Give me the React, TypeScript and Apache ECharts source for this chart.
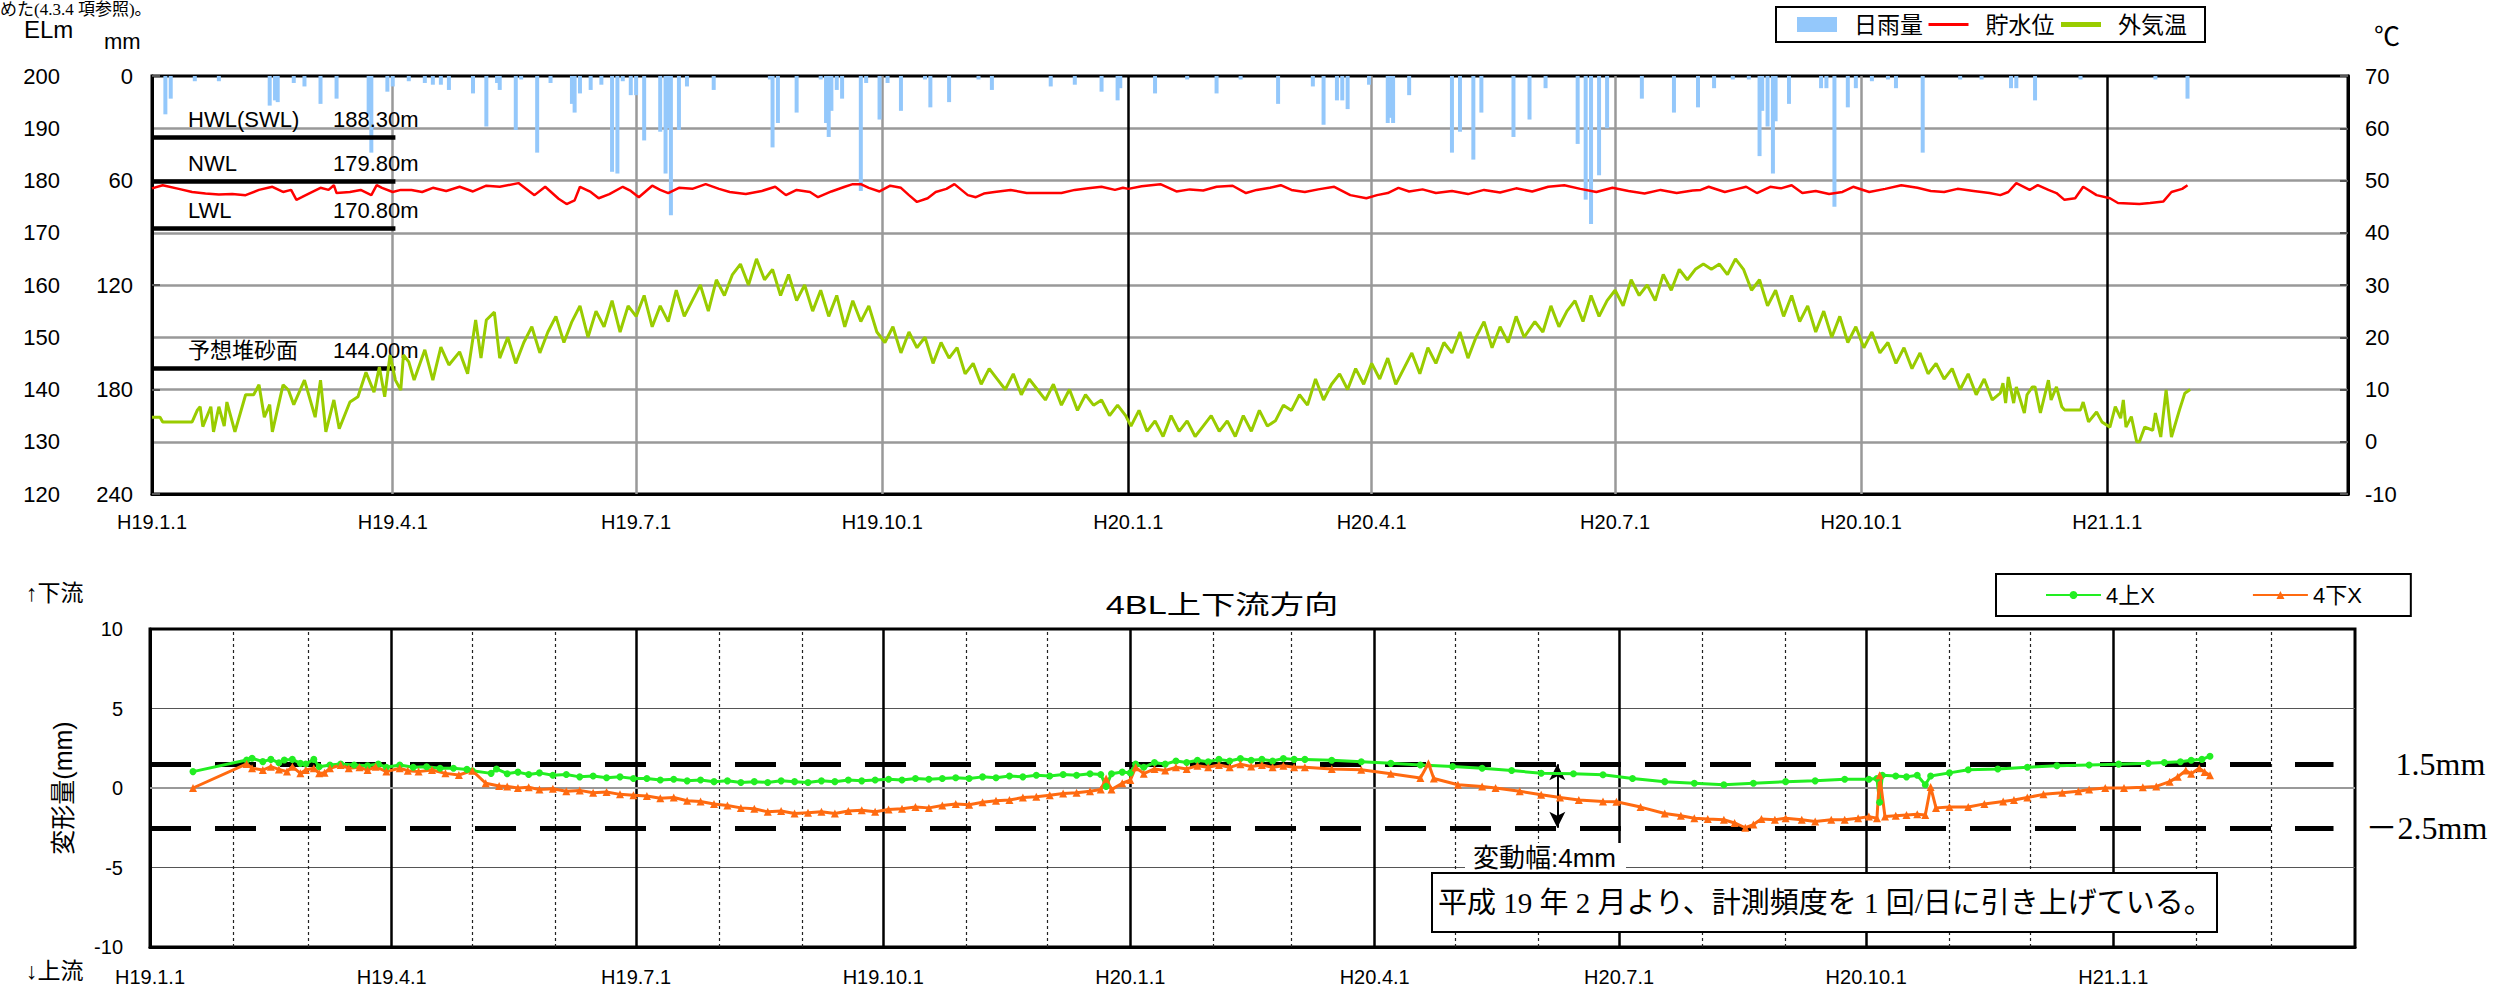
import { useEffect, useRef } from 'react';
import * as echarts from 'echarts';

const SANS = "'Liberation Sans', 'Noto Sans CJK JP', sans-serif";
const SERIF = "'Liberation Serif', 'Noto Sans CJK JP', serif";

// x positions are days counted from H19.1.1 (2007-01-01)
const END_DAY = 821;
const quarterDays = [0, 90, 181, 273, 365, 456, 547, 639, 731];
const quarterLabels = ['H19.1.1', 'H19.4.1', 'H19.7.1', 'H19.10.1', 'H20.1.1', 'H20.4.1', 'H20.7.1', 'H20.10.1', 'H21.1.1'];
const yearDays = [365, 731];
const monthDays = [31, 59, 120, 151, 212, 243, 304, 334, 396, 425, 486, 517, 578, 609, 670, 700, 762, 790];

// 日雨量 (mm)
const rainfall: [number, number][] = [
  [5, 22], [7, 13], [16, 3], [25, 3], [44, 17], [46, 14], [47, 15], [53, 4], [57, 6], [63, 16], [69, 13],
  [81, 22], [82, 44], [88, 9], [90, 6], [96, 3], [102, 4], [105, 5], [108, 5], [111, 8], [120, 10], [125, 29],
  [129, 4], [130, 8], [136, 31], [138, 2], [144, 44], [149, 4], [157, 16], [158, 21], [160, 10], [164, 8],
  [168, 5], [172, 55], [174, 56], [176, 3], [179, 11], [181, 11], [184, 37], [190, 32], [192, 56], [193, 30],
  [194, 80], [197, 31], [200, 6], [210, 8], [231, 2], [232, 41], [234, 27], [241, 21], [250, 2], [252, 27],
  [253, 35], [254, 20], [256, 8], [258, 13], [265, 66], [267, 4], [272, 25], [275, 4], [280, 20], [289, 2],
  [291, 18], [298, 15], [309, 2], [314, 8], [336, 6], [345, 5], [355, 9], [361, 14], [362, 7], [375, 10],
  [387, 2], [398, 10], [407, 2], [421, 16], [434, 6], [438, 28], [443, 14], [445, 14], [447, 19], [455, 5],
  [462, 27], [463, 24], [464, 27], [470, 11], [486, 44], [489, 32], [494, 48], [497, 21], [509, 35], [515, 25],
  [521, 7], [533, 39], [536, 71], [538, 85], [541, 57], [544, 30], [557, 13], [569, 21], [578, 18], [584, 7],
  [591, 2], [597, 2], [601, 46], [602, 20], [604, 29], [606, 56], [607, 26], [612, 16], [624, 7], [626, 7],
  [629, 75], [634, 18], [637, 7], [643, 3], [649, 2], [652, 7], [662, 44], [676, 2], [684, 2], [695, 7],
  [697, 7], [704, 14], [721, 2], [749, 2], [761, 13],
];

// 貯水位 (EL m)
const waterLevel: [number, number][] = [
  [0, 178.5], [4, 179.1], [10, 178.4], [15, 177.8], [20, 177.5], [25, 177.3], [30, 177.4], [35, 177.2],
  [40, 178.2], [45, 178.8], [49, 177.8], [52, 178.2], [54, 176.3], [56, 176.8], [59, 177.6], [63, 178.6],
  [66, 178.2], [68, 179.1], [69, 177.6], [74, 177.8], [78, 178.2], [82, 177.2], [84, 179.1], [86, 178.6],
  [90, 177.8], [93, 178.2], [97, 178.2], [101, 177.8], [105, 178.6], [110, 178.0], [115, 178.8], [120, 177.9],
  [125, 179.0], [130, 178.8], [137, 179.5], [143, 177.2], [147, 178.8], [152, 176.5], [155, 175.5], [158, 176.2],
  [160, 178.8], [164, 177.8], [167, 176.6], [171, 177.4], [176, 178.8], [179, 178.0], [182, 176.8], [187, 179.0],
  [190, 178.2], [193, 177.6], [197, 178.6], [202, 178.4], [207, 179.3], [212, 178.4], [216, 177.8], [222, 177.4],
  [228, 178.0], [233, 178.8], [237, 177.2], [241, 178.2], [246, 177.8], [249, 176.8], [254, 177.9], [259, 178.8],
  [262, 179.3], [265, 179.3], [268, 178.6], [272, 177.9], [276, 179.0], [280, 178.6], [283, 177.2], [286, 175.9],
  [290, 176.6], [293, 177.8], [297, 178.4], [300, 179.3], [305, 177.2], [308, 176.8], [311, 177.5], [315, 177.8],
  [321, 178.2], [327, 177.6], [333, 177.6], [340, 177.6], [345, 178.2], [350, 178.5], [355, 178.8], [360, 178.2],
  [363, 178.6], [365, 178.4], [370, 178.9], [377, 179.3], [383, 177.9], [388, 178.3], [393, 178.1], [398, 178.8],
  [404, 179.0], [409, 177.6], [413, 178.2], [418, 178.6], [422, 179.1], [426, 178.2], [431, 177.8], [436, 178.3],
  [442, 178.8], [448, 177.2], [454, 176.6], [458, 177.2], [462, 177.6], [466, 178.6], [470, 177.9], [475, 178.3],
  [480, 177.6], [486, 178.0], [492, 177.4], [498, 178.2], [504, 177.7], [510, 178.5], [516, 177.9], [522, 178.8],
  [528, 179.1], [534, 178.4], [540, 177.8], [546, 178.6], [552, 178.0], [558, 177.5], [564, 178.2], [570, 177.6],
  [576, 178.1], [579, 178.2], [582, 178.8], [588, 177.8], [592, 178.3], [596, 178.8], [600, 177.6], [605, 178.8],
  [609, 178.5], [613, 179.1], [617, 177.6], [622, 178.0], [627, 177.4], [632, 177.8], [636, 178.8], [642, 177.8],
  [648, 178.4], [654, 179.1], [660, 178.6], [665, 178.0], [670, 177.8], [675, 178.4], [681, 178.0], [687, 177.6],
  [691, 177.2], [694, 177.8], [697, 179.5], [702, 178.2], [705, 179.1], [709, 178.2], [712, 177.6], [715, 176.3],
  [719, 176.6], [722, 178.8], [727, 177.2], [732, 176.6], [735, 175.7], [739, 175.6], [743, 175.5], [747, 175.7],
  [752, 176.0], [755, 177.8], [759, 178.4], [761, 179.1],
];

// 外気温 (℃)
const airTemp: [number, number][] = [
  [0, 4.7], [3, 4.7], [4, 3.8], [15, 3.8], [17, 6.1], [18, 6.7], [19, 2.9], [22, 6.7], [23, 1.9], [25, 6.7],
  [27, 3.0], [28, 7.6], [30, 3.8], [31, 1.9], [35, 9.0], [38, 9.0], [40, 10.9], [42, 4.7], [44, 7.1], [45, 1.9],
  [49, 10.9], [51, 9.9], [53, 7.1], [57, 11.8], [61, 4.7], [63, 11.8], [65, 1.9], [68, 8.0], [70, 2.5], [74, 7.6],
  [77, 8.6], [80, 13.3], [83, 9.5], [85, 14.3], [87, 8.6], [89, 16.6], [91, 11.8], [93, 9.9], [94, 16.6], [96, 15.3],
  [98, 11.8], [102, 17.6], [105, 11.8], [108, 18.1], [111, 14.7], [115, 17.2], [118, 13.0], [121, 23.3], [123, 16.0],
  [125, 23.3], [128, 24.8], [130, 16.0], [133, 20], [136, 15], [139, 19], [142, 22], [145, 17], [148, 21], [151, 24],
  [154, 19], [157, 23], [160, 26], [163, 20], [166, 25], [169, 22], [172, 27], [175, 21], [178, 26], [181, 24],
  [184, 28], [187, 22], [190, 26], [193, 23], [196, 29], [199, 24], [202, 27], [205, 30], [208, 25], [211, 31],
  [214, 28], [217, 32], [220, 34], [223, 30], [226, 35], [229, 31], [232, 33], [235, 28], [238, 32], [241, 27],
  [244, 30], [247, 25], [250, 29], [253, 24], [256, 28], [259, 22], [262, 27], [265, 23], [268, 26], [271, 21],
  [274, 19], [277, 22], [280, 17], [283, 21], [286, 18], [289, 20], [292, 15], [295, 19], [298, 16], [301, 18],
  [304, 13], [307, 15], [310, 11], [313, 14], [316, 12], [319, 10], [322, 13], [325, 9], [328, 12], [331, 10],
  [334, 8], [337, 11], [340, 7], [343, 10], [346, 6], [349, 9], [352, 7], [355, 8], [358, 5], [361, 7], [364, 5],
  [366, 3], [369, 6], [372, 2], [375, 4], [378, 1], [381, 5], [384, 2], [387, 4], [390, 1], [393, 3], [396, 5],
  [399, 2], [402, 4], [405, 1], [408, 5], [411, 2], [414, 6], [417, 3], [420, 4], [423, 7], [426, 6], [429, 9],
  [432, 7], [435, 12], [438, 8], [441, 11], [444, 13], [447, 10], [450, 14], [453, 11], [456, 15], [459, 12],
  [462, 16], [465, 11], [468, 14], [471, 17], [474, 13], [477, 18], [480, 15], [483, 19], [486, 17], [489, 21],
  [492, 16], [495, 20], [498, 23], [501, 18], [504, 22], [507, 19], [510, 24], [513, 20], [517, 23], [520, 21],
  [523, 26], [526, 22], [529, 25], [532, 27], [535, 23], [538, 28], [541, 24], [544, 27], [547, 29], [550, 26],
  [553, 31], [556, 28], [559, 30], [562, 27], [565, 32], [568, 29], [571, 33], [574, 31], [577, 33], [580, 34],
  [583, 33], [586, 34], [589, 32], [592, 35], [595, 33], [598, 29], [601, 31], [604, 26], [607, 29], [610, 24],
  [613, 28], [616, 23], [619, 26], [622, 21], [625, 25], [628, 20], [631, 24], [634, 19], [637, 22], [640, 18],
  [643, 21], [646, 17], [649, 19], [652, 15], [655, 18], [658, 14], [661, 17], [664, 13], [667, 15], [670, 12],
  [673, 14], [676, 10], [679, 13], [682, 9], [685, 12], [688, 8], [691, 9.3], [692, 11.2], [693, 7.4], [694, 12.4],
  [696, 7.4], [697, 10.5], [700, 5.5], [701, 9], [703, 10.5], [704, 10.5], [706, 5.5], [709, 11.8], [710, 8],
  [712, 10.5], [714, 6.7], [715, 6.1], [721, 6.1], [722, 7.6], [724, 3.8], [727, 5.7], [729, 3.8], [732, 2.8],
  [734, 6.7], [736, 4.5], [737, 8], [738, 2.8], [740, 4.8], [742, 0], [743, 0], [745, 2.8], [748, 2.2], [749, 5.5],
  [751, 0.9], [753, 9.9], [755, 0.9], [758, 6.1], [760, 9.3], [762, 10],
];

// 4上X (mm)
const up4X: [number, number][] = [
  [16, 1.03], [36, 1.76], [38, 1.87], [42, 1.66], [45, 1.8], [48, 1.59], [50, 1.76], [53, 1.8], [56, 1.55],
  [58, 1.51], [61, 1.8], [63, 1.34], [67, 1.45], [71, 1.51], [76, 1.45], [81, 1.4], [85, 1.51], [88, 1.3],
  [93, 1.45], [98, 1.3], [103, 1.34], [108, 1.24], [113, 1.24], [118, 1.17], [120, 1.09], [127, 0.92], [129, 1.2],
  [133, 0.9], [137, 1.0], [141, 0.85], [145, 0.95], [150, 0.8], [155, 0.85], [160, 0.7], [165, 0.75], [170, 0.65],
  [175, 0.7], [180, 0.6], [185, 0.6], [190, 0.5], [195, 0.55], [200, 0.45], [205, 0.5], [210, 0.4], [215, 0.45],
  [220, 0.35], [225, 0.4], [230, 0.35], [235, 0.45], [240, 0.4], [245, 0.35], [250, 0.45], [255, 0.4], [260, 0.5],
  [265, 0.45], [270, 0.5], [275, 0.55], [280, 0.5], [285, 0.6], [290, 0.55], [295, 0.6], [300, 0.65], [305, 0.6],
  [310, 0.7], [315, 0.65], [320, 0.75], [325, 0.7], [330, 0.8], [335, 0.75], [340, 0.85], [345, 0.8], [350, 0.9],
  [354, 0.85], [356, 0.1], [358, 0.9], [362, 1.0], [365, 0.95], [367, 1.5], [370, 1.3], [374, 1.6], [378, 1.5],
  [382, 1.7], [386, 1.6], [390, 1.75], [394, 1.65], [398, 1.8], [402, 1.7], [406, 1.85], [410, 1.75], [414, 1.8],
  [418, 1.7], [422, 1.85], [426, 1.8], [430, 1.8], [440, 1.75], [451, 1.65], [462, 1.55], [473, 1.45], [485, 1.35],
  [496, 1.24], [507, 1.1], [518, 0.93], [530, 0.9], [541, 0.83], [552, 0.6], [564, 0.4], [575, 0.3], [586, 0.2],
  [597, 0.3], [609, 0.4], [620, 0.45], [631, 0.55], [640, 0.55], [643, 0.6], [644, -0.9], [645, 0.8], [650, 0.75],
  [654, 0.7], [658, 0.8], [661, 0.2], [663, 0.75], [670, 0.95], [677, 1.15], [688, 1.2], [699, 1.3], [710, 1.4],
  [722, 1.45], [733, 1.5], [744, 1.55], [750, 1.6], [756, 1.65], [760, 1.75], [764, 1.8], [767, 2.0],
];

// 4下X (mm)
const down4X: [number, number][] = [
  [16, 0], [36, 1.51], [38, 1.24], [42, 1.13], [45, 1.34], [48, 1.17], [51, 1.03], [53, 1.34], [56, 0.92],
  [58, 1.13], [61, 1.24], [63, 0.92], [65, 0.96], [67, 1.24], [71, 1.45], [74, 1.24], [78, 1.3], [81, 1.13],
  [84, 1.34], [88, 1.03], [93, 1.24], [96, 1.09], [100, 1.03], [105, 1.13], [110, 0.92], [115, 0.82], [120, 1.09],
  [125, 0.3], [130, 0.13], [133, 0.1], [137, 0.0], [141, 0.05], [145, -0.1], [150, -0.05], [155, -0.2], [160, -0.15],
  [165, -0.3], [170, -0.25], [175, -0.4], [180, -0.45], [185, -0.5], [190, -0.65], [195, -0.6], [200, -0.8],
  [205, -0.85], [210, -1.0], [215, -1.1], [220, -1.25], [225, -1.3], [230, -1.5], [235, -1.45], [240, -1.6],
  [245, -1.55], [250, -1.5], [255, -1.6], [260, -1.45], [265, -1.4], [270, -1.5], [275, -1.35], [280, -1.3],
  [285, -1.2], [290, -1.25], [295, -1.1], [300, -1.0], [305, -1.05], [310, -0.9], [315, -0.8], [320, -0.75],
  [325, -0.6], [330, -0.55], [335, -0.45], [340, -0.35], [345, -0.3], [350, -0.2], [354, -0.1], [356, 0.6],
  [358, -0.1], [362, 0.3], [365, 0.5], [367, 1.3], [370, 0.9], [374, 1.2], [378, 1.1], [382, 1.3], [386, 1.2],
  [390, 1.4], [394, 1.3], [398, 1.45], [402, 1.3], [406, 1.5], [410, 1.35], [414, 1.45], [418, 1.3], [422, 1.4],
  [426, 1.3], [430, 1.3], [440, 1.2], [451, 1.15], [462, 0.9], [473, 0.63], [476, 1.55], [478, 0.6], [487, 0.2],
  [496, 0.1], [501, 0.0], [510, -0.2], [518, -0.43], [525, -0.6], [532, -0.75], [541, -0.85], [546, -0.86],
  [555, -1.2], [564, -1.6], [570, -1.75], [575, -1.9], [580, -1.95], [586, -2.0], [590, -2.2], [594, -2.5],
  [597, -2.3], [600, -1.95], [605, -2.0], [609, -1.9], [615, -2.0], [620, -2.1], [626, -2.0], [631, -2.0],
  [636, -1.9], [640, -1.8], [643, -1.9], [644, 0.8], [646, -1.8], [650, -1.75], [654, -1.7], [658, -1.65],
  [661, -1.7], [663, 0.06], [665, -1.25], [670, -1.2], [677, -1.2], [683, -1.0], [690, -0.85], [694, -0.75],
  [699, -0.6], [705, -0.4], [712, -0.3], [718, -0.2], [722, -0.1], [728, 0.0], [735, 0.0], [742, 0.05], [747, 0.1],
  [752, 0.4], [755, 0.7], [758, 1.1], [760, 0.9], [763, 1.25], [765, 1.0], [767, 0.8],
];

const levelMarks = [
  { name: 'HWL(SWL)', value: 188.3, text: '188.30m' },
  { name: 'NWL', value: 179.8, text: '179.80m' },
  { name: 'LWL', value: 170.8, text: '170.80m' },
  { name: '予想堆砂面', value: 144.0, text: '144.00m' },
];
const LEVEL_END_DAY = 91;
const limitUpper = 1.5;
const limitLower = -2.5;
const LIMIT_END_DAY = 813;
const RANGE_DAY = 524;

const labelFor = (v: number) => {
  const i = quarterDays.indexOf(v);
  return i >= 0 ? quarterLabels[i] : '';
};

export default function App() {
  const ref = useRef<HTMLDivElement>(null);
  useEffect(() => {
    if (!ref.current) return;
    const chart = echarts.init(ref.current, undefined, { renderer: 'svg' });

    const xAxisBase = (gridIndex: number) => ({
      type: 'value',
      gridIndex,
      min: 0,
      max: END_DAY,
      axisLine: { show: true, onZero: false, lineStyle: { color: '#000', width: 3 } },
      axisTick: { show: false },
      splitLine: { show: false },
      axisLabel: {
        customValues: quarterDays,
        formatter: (v: number) => labelFor(v),
        fontSize: 20,
        color: '#000',
        margin: gridIndex === 0 ? 18 : 20,
        hideOverlap: false,
        showMinLabel: true,
        showMaxLabel: true,
        fontFamily: SANS,
      },
    });

    const topVLines = quarterDays.slice(1).map((d) => ({
      xAxis: d,
      lineStyle: { color: yearDays.includes(d) ? '#000' : '#999', width: 2.5, type: 'solid' },
    }));
    const bottomVLines = [
      ...monthDays.map((d) => ({ xAxis: d, lineStyle: { color: '#222', width: 1.2, type: [3, 3] } })),
      ...quarterDays.slice(1).map((d) => ({ xAxis: d, lineStyle: { color: '#000', width: 2.5, type: 'solid' } })),
      { yAxis: 0, lineStyle: { color: '#999', width: 2, type: 'solid' } },
    ];

    const levelLines = levelMarks.map((m) => [
      {
        coord: [0, m.value],
        label: {
          show: true,
          position: 'insideStartTop',
          distance: [36, 7],
          formatter: () => `{n|${m.name}}{v|${m.text}}`,
          rich: {
            n: { width: 145, fontSize: 22, color: '#000', fontFamily: SANS },
            v: { fontSize: 22, color: '#000', fontFamily: SANS },
          },
        },
      },
      { coord: [LEVEL_END_DAY, m.value] },
    ]);

    const limitLabel = { show: true, position: 'end', fontFamily: SERIF, fontSize: 32, color: '#000' };
    const limitLines = [
      [
        { coord: [0, limitUpper], label: { ...limitLabel, formatter: '1.5mm', distance: 62 } },
        { coord: [LIMIT_END_DAY, limitUpper] },
      ],
      [
        { coord: [0, limitLower], label: { ...limitLabel, formatter: '－2.5mm', distance: 32 } },
        { coord: [LIMIT_END_DAY, limitLower] },
      ],
      [
        { coord: [RANGE_DAY, limitUpper], symbol: 'arrow', symbolSize: [12, 16], lineStyle: { width: 2, type: 'solid', color: '#000' }, label: { show: false } },
        { coord: [RANGE_DAY, limitLower], symbol: 'arrow', symbolSize: [12, 16] },
      ],
    ];

    const hiddenSymbol = { opacity: 0, color: 'rgba(0,0,0,0)', borderWidth: 0 };

    const option = {
      animation: false,
      textStyle: { fontFamily: SANS, color: '#000' },
      grid: [
        { left: 152, top: 76, width: 2196, height: 418, show: true, borderColor: '#000', borderWidth: 3, backgroundColor: 'rgba(0,0,0,0)' },
        { left: 150, top: 629, width: 2205, height: 318, show: true, borderColor: '#000', borderWidth: 3, backgroundColor: 'rgba(0,0,0,0)' },
      ],
      legend: [
        {
          left: 1776,
          top: 7,
          padding: [6, 18, 6, 21],
          borderColor: '#000',
          borderWidth: 2,
          itemWidth: 40,
          itemHeight: 15,
          itemGap: 4,
          selectedMode: false,
          textStyle: { fontSize: 23, color: '#000', padding: [0, 0, 0, 12], fontFamily: SANS },
          data: [
            { name: '日雨量', icon: 'rect' },
            { name: '貯水位', itemStyle: hiddenSymbol, lineStyle: { width: 3 } },
            { name: '外気温', itemStyle: hiddenSymbol, lineStyle: { width: 5 } },
          ],
        },
        {
          left: 1996,
          top: 574,
          padding: [10, 49, 10, 49],
          borderColor: '#000',
          borderWidth: 2,
          itemWidth: 55,
          itemHeight: 10,
          itemGap: 97,
          selectedMode: false,
          textStyle: { fontSize: 22, color: '#000', fontFamily: SANS },
          data: ['4上X', '4下X'],
        },
      ],
      xAxis: [xAxisBase(0), xAxisBase(1)],
      yAxis: [
        {
          type: 'value', gridIndex: 0, min: 120, max: 200, interval: 10, position: 'left',
          axisLine: { show: true, lineStyle: { color: '#000', width: 3 } },
          axisTick: { show: false },
          axisLabel: { margin: 92, fontSize: 22, color: '#000', fontFamily: SANS },
          splitLine: { show: true, showMinLine: false, showMaxLine: false, lineStyle: { color: '#999', width: 2.5 } },
        },
        {
          type: 'value', gridIndex: 0, min: 0, max: 240, interval: 60, inverse: true, position: 'left',
          axisLine: { show: false },
          axisTick: { show: true, inside: true, length: 8, lineStyle: { color: '#555', width: 2 } },
          axisLabel: { margin: 19, fontSize: 22, color: '#000', fontFamily: SANS },
          splitLine: { show: false },
        },
        {
          type: 'value', gridIndex: 0, min: -10, max: 70, interval: 10, position: 'right',
          axisLine: { show: true, lineStyle: { color: '#000', width: 3 } },
          axisTick: { show: true, inside: true, length: 8, lineStyle: { color: '#555', width: 2 } },
          axisLabel: { margin: 17, fontSize: 22, color: '#000', fontFamily: SANS },
          splitLine: { show: false },
        },
        {
          type: 'value', gridIndex: 1, min: -10, max: 10, interval: 5, position: 'left',
          axisLine: { show: true, lineStyle: { color: '#000', width: 3 } },
          axisTick: { show: false },
          axisLabel: { margin: 27, fontSize: 20, color: '#000', fontFamily: SANS },
          splitLine: { show: true, showMinLine: false, showMaxLine: false, lineStyle: { color: '#555', width: 1 } },
        },
      ],
      series: [
        {
          name: '日雨量', type: 'bar', xAxisIndex: 0, yAxisIndex: 1, barWidth: 4,
          data: rainfall, itemStyle: { color: '#94c8fb' }, color: '#94c8fb',
          markLine: { silent: true, symbol: 'none', z: 1, label: { show: false }, data: topVLines },
        },
        {
          name: '貯水位', type: 'line', xAxisIndex: 0, yAxisIndex: 0, symbol: 'none',
          data: waterLevel, color: '#ff0000', lineStyle: { color: '#ff0000', width: 2.5 },
          markLine: { silent: true, symbol: 'none', z: 3, lineStyle: { color: '#000', width: 4.5, type: 'solid' }, data: levelLines },
        },
        {
          name: '外気温', type: 'line', xAxisIndex: 0, yAxisIndex: 2, symbol: 'none',
          data: airTemp, color: '#99cc00', lineStyle: { color: '#99cc00', width: 3 },
        },
        {
          name: '4上X', type: 'line', xAxisIndex: 1, yAxisIndex: 3, symbol: 'circle', symbolSize: 7,
          data: up4X, color: '#22ee22', lineStyle: { color: '#22ee22', width: 3 }, itemStyle: { color: '#22ee22' },
          markLine: { silent: true, symbol: 'none', z: 1, label: { show: false }, data: bottomVLines },
        },
        {
          name: '4下X', type: 'line', xAxisIndex: 1, yAxisIndex: 3, symbol: 'triangle', symbolSize: 8,
          data: down4X, color: '#ff6a10', lineStyle: { color: '#ff6a10', width: 3 }, itemStyle: { color: '#ff6a10' },
          markLine: {
            silent: true, symbol: 'none', z: 3,
            lineStyle: { color: '#000', width: 5, type: [41, 24] },
            data: limitLines,
          },
        },
      ],
      graphic: [
        { type: 'text', x: 0, y: 1, z: 100, style: { text: 'めた(4.3.4 項参照)。', fontSize: 17, fontFamily: SERIF, fill: '#000', verticalAlign: 'top' } },
        { type: 'text', x: 24, y: 29, z: 100, style: { text: 'ELm', fontSize: 24, fontFamily: SANS, fill: '#000', verticalAlign: 'middle' } },
        { type: 'text', x: 104, y: 41, z: 100, style: { text: 'mm', fontSize: 22, fontFamily: SANS, fill: '#000', verticalAlign: 'middle' } },
        { type: 'text', x: 2374, y: 37, z: 100, style: { text: '℃', fontSize: 26, fontFamily: SANS, fill: '#000', verticalAlign: 'middle' } },
        { type: 'text', x: 26, y: 593, z: 100, style: { text: '↑下流', fontSize: 23, fontFamily: SANS, fill: '#000', verticalAlign: 'middle' } },
        { type: 'text', x: 26, y: 971, z: 100, style: { text: '↓上流', fontSize: 23, fontFamily: SANS, fill: '#000', verticalAlign: 'middle' } },
        { type: 'text', x: 63, y: 788, rotation: Math.PI / 2, z: 100, style: { text: '変形量(mm)', fontSize: 25, fontFamily: SANS, fill: '#000', align: 'center', verticalAlign: 'middle' } },
        { type: 'text', x: 1222, y: 605, scaleX: 1.32, z: 100, style: { text: '4BL上下流方向', fontSize: 26, fontFamily: SANS, fill: '#000', align: 'center', verticalAlign: 'middle' } },
        { type: 'text', x: 1465, y: 858, z: 100, style: { text: '変動幅:4mm', fontSize: 26, fontFamily: SANS, fill: '#000', verticalAlign: 'middle', backgroundColor: '#fff', padding: [2, 10, 2, 8] } },
        { type: 'rect', x: 1432, y: 873, z: 100, shape: { width: 785, height: 59 }, style: { fill: '#fff', stroke: '#000', lineWidth: 2 } },
        { type: 'text', x: 1438, y: 903, z: 101, style: { text: '平成 19 年 2 月より、計測頻度を 1 回/日に引き上げている。', fontSize: 29, fontFamily: SERIF, fill: '#000', verticalAlign: 'middle' } },
      ],
    };

    chart.setOption(option as any);
    return () => chart.dispose();
  }, []);

  return <div ref={ref} style={{ position: 'fixed', left: 0, top: 0, width: 2512, height: 989, background: '#fff' }} />;
}
